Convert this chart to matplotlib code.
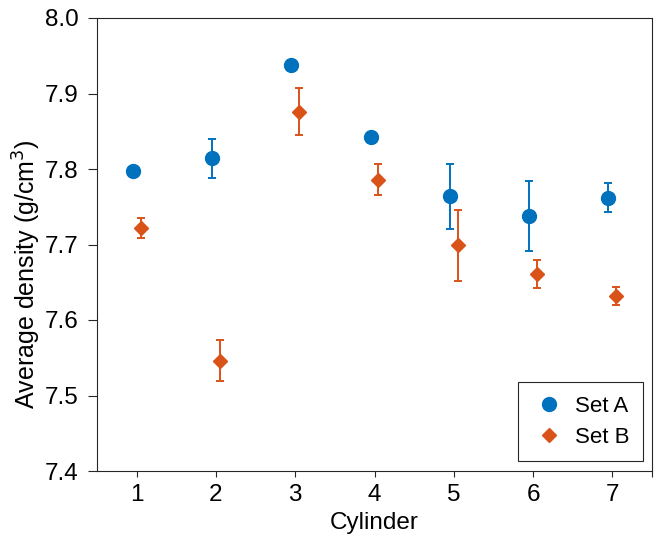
import matplotlib
matplotlib.use("Agg")
import matplotlib.pyplot as plt
from matplotlib.lines import Line2D
import numpy as np

plt.rcParams['font.family'] = ['Liberation Sans', 'DejaVu Sans']

cylinders = [1, 2, 3, 4, 5, 6, 7]
set_a = [7.797, 7.814, 7.938, 7.842, 7.764, 7.738, 7.762]
set_a_err = [0.004, 0.026, 0.007, 0.003, 0.043, 0.046, 0.019]
set_b = [7.722, 7.546, 7.876, 7.786, 7.699, 7.661, 7.632]
set_b_err = [0.013, 0.027, 0.031, 0.020, 0.047, 0.019, 0.012]
yticks = [7.4, 7.5, 7.6, 7.7, 7.8, 7.9, 8.0]
series_names = ['Set A', 'Set B']

blue = '#0072BD'
orange = '#D95319'

fig = plt.figure(figsize=(6.62, 5.36), dpi=100)
ax = fig.add_axes([97/662, (536-471)/536, (652-97)/662, (471-18)/536])

x = np.array(cylinders, dtype=float)
ax.errorbar(x - 0.05, set_a, yerr=set_a_err, fmt='o', color=blue, ecolor=blue,
            markersize=10, elinewidth=1.4, capsize=3, capthick=1.4)
ax.errorbar(x + 0.05, set_b, yerr=set_b_err, fmt='D', color=orange, ecolor=orange,
            markersize=7.5, elinewidth=1.4, capsize=3, capthick=1.4)

ax.set_xlim(0.5, 7.5)
ax.set_ylim(7.4, 8.0)
ax.set_xticks(cylinders)
ax.set_xticks([7.5], minor=True)
ax.set_yticks(yticks)
ax.set_yticklabels([f"{v:.1f}" for v in yticks])
ax.tick_params(axis='both', which='both', direction='out', labelsize=17.5, width=0.8,
               color='#262626', labelcolor='black')
ax.tick_params(axis='y', length=6.5, pad=7)
ax.tick_params(axis='x', which='both', length=4.5, pad=5)
for s in ax.spines.values():
    s.set_color('#262626')
    s.set_linewidth(0.8)

ax.set_xlabel('Cylinder', fontsize=17.5, labelpad=4.5)
ax.set_ylabel('Average density (g/cm$^3$)', fontsize=18)
ax.yaxis.set_label_coords(-0.097, 0.435)

handles = [Line2D([], [], marker='o', linestyle='none', color=blue, markersize=10),
           Line2D([], [], marker='D', linestyle='none', color=orange, markersize=7.5)]
leg = ax.legend(handles, series_names, loc='lower right', fontsize=16, frameon=True,
                fancybox=False, edgecolor='#262626', framealpha=1, borderpad=0.6,
                handletextpad=0.4, handlelength=1.6, labelspacing=0.45,
                borderaxespad=0, bbox_to_anchor=(0.984, 0.022))
leg.get_frame().set_linewidth(0.8)

fig.savefig('out.png', dpi=100)
